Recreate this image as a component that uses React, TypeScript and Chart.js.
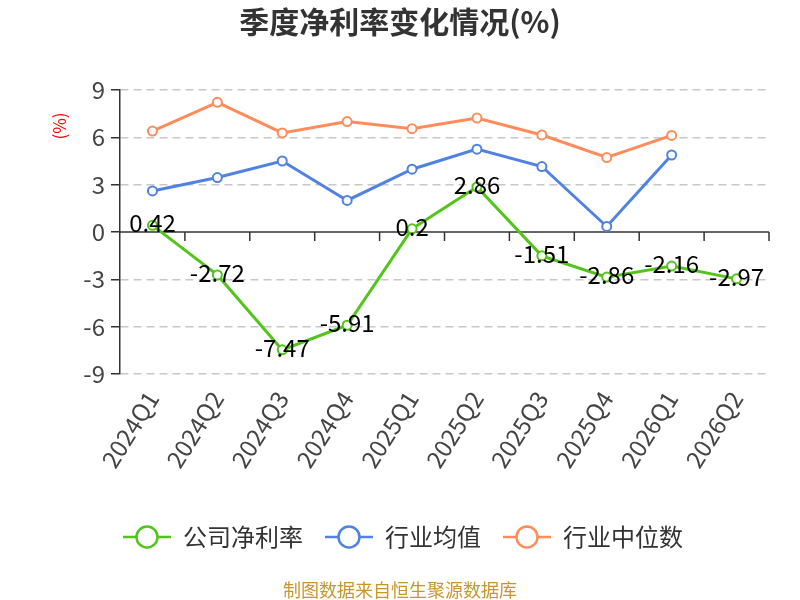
import React, { useEffect, useRef } from 'react';
import { Chart, registerables } from 'chart.js';

Chart.register(...registerables);

const categories = ['2024Q1', '2024Q2', '2024Q3', '2024Q4', '2025Q1', '2025Q2', '2025Q3', '2025Q4', '2026Q1', '2026Q2'];
const companyMargin = [0.42, -2.72, -7.47, -5.91, 0.2, 2.86, -1.51, -2.86, -2.16, -2.97];
const industryAvg = [2.6, 3.45, 4.5, 2.0, 3.98, 5.25, 4.15, 0.35, 4.88, null];
const industryMedian = [6.4, 8.22, 6.28, 7.0, 6.55, 7.22, 6.15, 4.72, 6.12, null];
const seriesNames = ['公司净利率', '行业均值', '行业中位数'];
const seriesColors = ['#52c41a', '#4f82e3', '#ff8c5a'];
const yTicks = [-9, -6, -3, 0, 3, 6, 9];

const FONT = "'Noto Sans CJK SC', 'Noto Sans', sans-serif";

const overlayPlugin = {
    id: 'overlay',
    beforeDatasetsDraw(chart: any) {
        // solid zero line with tick marks between categories
        const { ctx, chartArea } = chart;
        const y0 = chart.scales.y.getPixelForValue(0);
        const step = (chartArea.right - chartArea.left) / categories.length;
        ctx.save();
        ctx.strokeStyle = '#333';
        ctx.lineWidth = 1.5;
        ctx.beginPath();
        ctx.moveTo(chartArea.left, y0);
        ctx.lineTo(chartArea.right, y0);
        for (let i = 1; i <= categories.length; i++) {
            const x = chartArea.left + i * step;
            ctx.moveTo(x, y0);
            ctx.lineTo(x, y0 + 9);
        }
        ctx.stroke();
        ctx.restore();
    },
    afterDatasetsDraw(chart: any) {
        const { ctx } = chart;
        const meta = chart.getDatasetMeta(0);
        ctx.save();
        ctx.font = `24px ${FONT}`;
        ctx.fillStyle = '#000';
        ctx.textAlign = 'center';
        ctx.textBaseline = 'middle';
        meta.data.forEach((pt: any, i: number) => {
            ctx.fillText(String(companyMargin[i]), pt.x, pt.y - 2);
        });
        ctx.restore();
    },
    afterDraw(chart: any) {
        const { ctx } = chart;
        ctx.save();
        // title
        ctx.fillStyle = '#333';
        ctx.font = `bold 30px ${FONT}`;
        ctx.textAlign = 'center';
        ctx.textBaseline = 'middle';
        ctx.fillText('季度净利率变化情况(%)', 400, 22);

        // unit label
        ctx.save();
        ctx.translate(60, 126);
        ctx.rotate(-Math.PI / 2);
        ctx.fillStyle = '#ff0000';
        ctx.font = `17px ${FONT}`;
        ctx.fillText('(%)', 0, 0);
        ctx.restore();

        // legend
        ctx.font = `24px ${FONT}`;
        const lineLen = 48;
        const gapText = 12;
        const gapItem = 22;
        const widths = seriesNames.map((n) => ctx.measureText(n).width);
        const total = widths.reduce((a, w) => a + lineLen + gapText + w, 0) + gapItem * (seriesNames.length - 1);
        let x = 403 - total / 2;
        const ly = 537;
        seriesNames.forEach((name, i) => {
            ctx.strokeStyle = seriesColors[i];
            ctx.lineWidth = 2.5;
            ctx.beginPath();
            ctx.moveTo(x, ly);
            ctx.lineTo(x + lineLen, ly);
            ctx.stroke();
            ctx.beginPath();
            ctx.arc(x + lineLen / 2, ly, 10.5, 0, Math.PI * 2);
            ctx.fillStyle = '#fff';
            ctx.fill();
            ctx.stroke();
            ctx.fillStyle = '#333';
            ctx.textAlign = 'left';
            ctx.fillText(name, x + lineLen + gapText, ly);
            x += lineLen + gapText + widths[i] + gapItem;
        });

        // source note
        ctx.fillStyle = '#c9952c';
        ctx.font = `18px ${FONT}`;
        ctx.textAlign = 'center';
        ctx.fillText('制图数据来自恒生聚源数据库', 400, 590);
        ctx.restore();
    },
};

function NetMarginChart() {
    const chartRef = useRef<HTMLCanvasElement | null>(null);
    const chartInstance = useRef<Chart | null>(null);

    useEffect(() => {
        if (chartRef.current) {
            if (chartInstance.current) {
                chartInstance.current.destroy();
            }
            const ctx = chartRef.current.getContext('2d');
            if (ctx) {
                const series = [companyMargin, industryAvg, industryMedian];
                chartInstance.current = new Chart(ctx, {
                    type: 'line',
                    data: {
                        labels: categories,
                        datasets: series.map((values, i) => ({
                            label: seriesNames[i],
                            data: values,
                            borderColor: seriesColors[i],
                            backgroundColor: '#fff',
                            pointBackgroundColor: '#fff',
                            pointBorderColor: seriesColors[i],
                            pointBorderWidth: 2,
                            pointRadius: 4.5,
                            borderWidth: 3,
                            tension: 0,
                            spanGaps: false,
                        })),
                    },
                    options: {
                        animation: false,
                        responsive: true,
                        maintainAspectRatio: false,
                        layout: { padding: { top: 90, right: 31, bottom: 126, left: 0 } },
                        plugins: {
                            legend: { display: false },
                            tooltip: { enabled: false },
                        },
                        scales: {
                            x: {
                                offset: true,
                                afterFit: (s: any) => { s.height = 100; },
                                grid: { display: false },
                                border: { display: false },
                                ticks: {
                                    autoSkip: false,
                                    minRotation: 58,
                                    maxRotation: 58,
                                    padding: 4,
                                    color: '#444',
                                    font: { size: 24, family: FONT },
                                },
                            },
                            y: {
                                min: -9,
                                max: 9,
                                afterFit: (s: any) => { s.width = 120; },
                                afterBuildTicks: (s: any) => { s.ticks = yTicks.map((v) => ({ value: v })); },
                                ticks: {
                                    padding: 6,
                                    color: '#444',
                                    font: { size: 24, family: FONT },
                                },
                                grid: {
                                    color: (c: any) => (c.tick && c.tick.value === 0 ? 'rgba(0,0,0,0)' : '#c8c8c8'),
                                    lineWidth: 1.5,
                                    tickColor: '#333',
                                    tickLength: 9,
                                },
                                border: { display: true, color: '#333', width: 1.5, dash: [8, 5] },
                            },
                        },
                    },
                    plugins: [overlayPlugin],
                });
            }
        }
        return () => {
            if (chartInstance.current) {
                chartInstance.current.destroy();
                chartInstance.current = null;
            }
        };
    }, []);

    return <canvas ref={chartRef} />;
}

export default function App() {
    return (
        <div style={{ position: 'absolute', left: 0, top: 0, width: 800, height: 600, background: '#fff' }}>
            <NetMarginChart />
        </div>
    );
}
